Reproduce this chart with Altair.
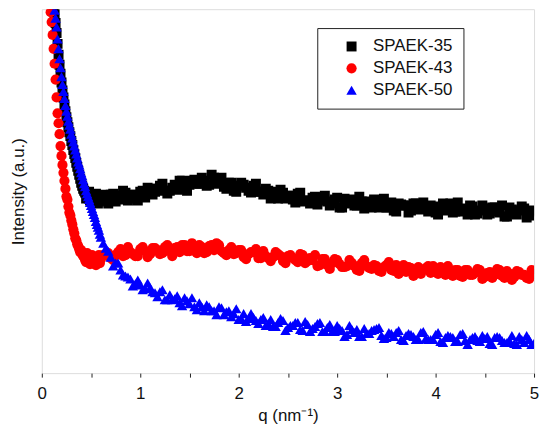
import altair as alt
import pandas as pd

# q grid (nm^-1)
q_low = [0.08, 0.09, 0.10, 0.11, 0.12, 0.13, 0.14, 0.15, 0.16, 0.17, 0.18,
         0.19, 0.20, 0.21, 0.22, 0.23, 0.24, 0.25, 0.26, 0.27, 0.28, 0.29,
         0.30, 0.31, 0.32, 0.33, 0.34, 0.35, 0.36, 0.37, 0.38, 0.39, 0.40,
         0.42, 0.44, 0.46, 0.48, 0.50, 0.52, 0.54, 0.56, 0.58, 0.60]
q_tail = [0.65, 0.70, 0.75, 0.80, 0.85, 0.90, 0.95, 1.00, 1.05, 1.10, 1.15,
          1.20, 1.25, 1.30, 1.35, 1.40, 1.45, 1.50, 1.55, 1.60, 1.65, 1.70,
          1.75, 1.80, 1.85, 1.90, 1.95, 2.00, 2.05, 2.10, 2.15, 2.20, 2.25,
          2.30, 2.35, 2.40, 2.45, 2.50, 2.55, 2.60, 2.65, 2.70, 2.75, 2.80,
          2.85, 2.90, 2.95, 3.00, 3.05, 3.10, 3.15, 3.20, 3.25, 3.30, 3.35,
          3.40, 3.45, 3.50, 3.55, 3.60, 3.65, 3.70, 3.75, 3.80, 3.85, 3.90,
          3.95, 4.00, 4.05, 4.10, 4.15, 4.20, 4.25, 4.30, 4.35, 4.40, 4.45,
          4.50, 4.55, 4.60, 4.65, 4.70, 4.75, 4.80, 4.85, 4.90, 4.95, 5.00]
q_mid = [0.41, 0.43, 0.45, 0.47, 0.49, 0.51, 0.53, 0.55, 0.57, 0.59, 0.625,
         0.675, 0.725, 0.775, 0.825, 0.875, 0.925, 0.975, 1.025, 1.075, 1.125, 1.175,
         1.225, 1.275, 1.325, 1.375, 1.425, 1.475, 1.525, 1.575, 1.625, 1.675, 1.725,
         1.775, 1.825, 1.875, 1.925, 1.975, 2.025, 2.075, 2.125, 2.175, 2.225, 2.275,
         2.325, 2.375, 2.425, 2.475, 2.525, 2.575, 2.625, 2.675, 2.725, 2.775, 2.825,
         2.875, 2.925, 2.975, 3.025, 3.075, 3.125, 3.175, 3.225, 3.275, 3.325, 3.375,
         3.425, 3.475, 3.525, 3.575, 3.625, 3.675, 3.725, 3.775, 3.825, 3.875, 3.925,
         3.975, 4.025, 4.075, 4.125, 4.175, 4.225, 4.275, 4.325, 4.375, 4.425, 4.475,
         4.525, 4.575, 4.625, 4.675, 4.725, 4.775, 4.825, 4.875, 4.925, 4.975]
q = q_low + q_tail + q_mid

series = ["SPAEK-35", "SPAEK-43", "SPAEK-50"]
colors = ["#000000", "#ff0000", "#0000ff"]
shapes = ["square", "circle", "triangle-up"]
marker_sizes = [100, 110, 135]

# Intensity (a.u.)
spaek35 = [404, 396, 388, 380, 371, 362, 353, 343, 332, 321, 311,
           302, 293, 285, 278, 271, 264, 258, 253, 248, 243, 239,
           234, 230, 225, 221, 217, 212, 208, 204, 200, 196, 192,
           186, 182, 178, 183, 175, 180, 172, 178, 173, 179,
           174, 180, 173, 179, 182, 176, 180, 183, 177, 186, 183,
           189, 184, 184, 190, 194, 186, 190, 195, 191, 194, 190,
           197, 192, 188, 192, 184, 189, 190, 184, 189, 183, 180,
           184, 181, 176, 182, 179, 175, 181, 173, 174, 177, 170,
           177, 173, 171, 177, 167, 173, 175, 169, 173, 170, 167,
           174, 170, 167, 172, 163, 170, 169, 164, 171, 165, 167,
           169, 162, 165, 168, 171, 163, 163, 166, 169, 160, 164,
           166, 161, 167, 162, 158, 167, 161, 164, 166, 159, 163,
           # in-between points
           189, 184, 176, 181, 174, 179, 176, 181, 171, 176, 180,
           171, 181, 175, 184, 174, 180, 174, 184, 187, 180, 186,
           191, 181, 187, 185, 194, 184, 194, 191, 197, 189, 200,
           191, 197, 186, 192, 183, 192, 187, 182, 191, 183, 186,
           176, 183, 185, 176, 179, 172, 182, 174, 171, 178, 174,
           179, 169, 175, 167, 176, 171, 169, 178, 166, 173, 175,
           167, 176, 167, 164, 171, 169, 162, 171, 166, 172, 163,
           168, 160, 171, 164, 162, 172, 165, 160, 168, 161, 169,
           160, 167, 163, 169, 158, 165, 160, 168, 157, 164]
spaek43 = [371, 364, 354, 341, 327, 312, 296, 278, 262, 252, 241,
           229, 219, 210, 202, 194, 186, 178, 175, 168, 162, 159,
           154, 150, 145, 141, 136, 134, 130, 128, 125, 122, 124,
           118, 114, 121, 112, 116, 111, 117, 112, 119, 115,
           119, 116, 119, 125, 119, 122, 118, 125, 123, 120, 126,
           120, 127, 123, 126, 122, 129, 123, 126, 129, 121, 128,
           124, 129, 121, 124, 120, 124, 117, 120, 122, 116, 123,
           116, 117, 120, 113, 118, 116, 112, 119, 113, 114, 108,
           115, 109, 111, 114, 107, 108, 111, 104, 111, 108, 105,
           108, 102, 109, 104, 109, 104, 102, 106, 104, 100, 106,
           101, 104, 107, 99, 101, 104, 98, 104, 99, 101, 104,
           97, 102, 99, 104, 96, 100, 97, 102, 99, 95, 100,
           # in-between points
           120, 117, 112, 118, 110, 119, 113, 109, 116, 111, 119,
           121, 114, 122, 118, 127, 120, 118, 127, 117, 126, 124,
           121, 129, 118, 127, 129, 123, 131, 121, 127, 122, 129,
           131, 123, 119, 127, 121, 124, 115, 122, 125, 116, 118,
           113, 122, 118, 111, 119, 114, 120, 111, 116, 119, 109,
           115, 105, 115, 110, 107, 114, 108, 103, 114, 106, 109,
           103, 107, 112, 103, 100, 109, 107, 98, 107, 104, 108,
           108, 100, 102, 108, 98, 104, 97, 104, 99, 105, 95,
           101, 96, 105, 98, 103, 94, 103, 99, 96, 104]
spaek50 = [414, 404, 394, 384, 374, 366, 358, 349, 337, 327, 317,
           308, 299, 291, 284, 277, 270, 264, 259, 254, 250, 246,
           241, 237, 233, 229, 225, 221, 217, 213, 210, 206, 202,
           195, 188, 181, 175, 169, 163, 157, 150, 144, 137,
           126, 117, 111, 104, 98, 95, 90, 89, 85, 86, 81,
           82, 74, 79, 75, 71, 76, 70, 67, 71, 63, 67,
           63, 67, 59, 63, 60, 54, 60, 55, 56, 50, 56,
           50, 47, 51, 53, 46, 48, 51, 43, 49, 45, 50,
           42, 46, 42, 48, 43, 39, 44, 44, 37, 40, 43,
           45, 38, 36, 40, 41, 34, 38, 39, 34, 41, 35,
           34, 39, 32, 36, 37, 32, 39, 33, 34, 37, 32,
           35, 30, 36, 36, 31, 33, 30, 37, 31, 34, 30,
           # in-between points
           199, 191, 184, 178, 172, 166, 160, 153, 147, 140, 131,
           123, 108, 111, 99, 97, 88, 94, 84, 91, 82, 77,
           84, 74, 74, 78, 68, 73, 76, 64, 67, 69, 63,
           59, 66, 62, 57, 65, 55, 52, 60, 53, 54, 48,
           54, 47, 55, 43, 48, 51, 44, 52, 42, 47, 51,
           42, 49, 42, 45, 37, 48, 41, 37, 45, 40, 44,
           46, 35, 41, 37, 43, 33, 40, 37, 34, 42, 34,
           34, 41, 31, 38, 36, 32, 40, 29, 36, 33, 38,
           37, 29, 37, 33, 31, 38, 29, 34, 38, 29]

x_ticks = [0, 0.5, 1, 1.5, 2, 2.5, 3, 3.5, 4, 4.5, 5]

rows = []
for name, vals in zip(series, [spaek35, spaek43, spaek50]):
    for qq, v in zip(q, vals):
        rows.append({"q": qq, "intensity": v, "sample": name})
df = pd.DataFrame(rows)

FONT = "Liberation Sans"

legend = alt.Legend(
    title=None, orient="none", legendX=277, legendY=19,
    fillColor="white", strokeColor="#222222",
    padding=10, rowPadding=4, symbolSize=60, symbolOffset=16,
    labelOffset=13, labelFontSize=17, labelFont=FONT, labelColor="#111111",
    symbolStrokeWidth=0,
)

chart = alt.Chart(df).mark_point(filled=True, opacity=1, clip=True).encode(
    x=alt.X("q:Q",
            scale=alt.Scale(domain=[0, 5], nice=False, zero=False),
            axis=alt.Axis(values=x_ticks, title="q (nm⁻¹)",
                          labelExpr="datum.value % 1 === 0 ? format(datum.value, 'd') : ''",
                          domain=False, grid=False, ticks=True, tickSize=4,
                          tickColor="#222222", tickWidth=1,
                          labelFontSize=17, labelFont=FONT, labelColor="#111111",
                          labelPadding=9, titleFontSize=17, titleFont=FONT,
                          titleFontWeight="normal", titleColor="#111111",
                          titlePadding=6, labelFlush=False)),
    y=alt.Y("intensity:Q",
            scale=alt.Scale(domain=[0, 367], nice=False, zero=False),
            axis=alt.Axis(title="Intensity (a.u.)", labels=False, ticks=False,
                          domain=False, grid=False, titleFontSize=17, titleFont=FONT,
                          titleFontWeight="normal", titleColor="#111111",
                          titlePadding=14)),
    color=alt.Color("sample:N", scale=alt.Scale(domain=series, range=colors), legend=legend),
    shape=alt.Shape("sample:N", scale=alt.Scale(domain=series, range=shapes), legend=legend),
    size=alt.Size("sample:N", scale=alt.Scale(domain=series, range=marker_sizes), legend=None),
    order=alt.Order("sample:N"),
).properties(
    width=495, height=366,
    autosize=alt.AutoSizeParams(type="none"),
    padding={"left": 34, "top": 0, "right": 8, "bottom": 58},
).configure_view(
    stroke="#222222", strokeWidth=1.2
).configure(background="white")

chart.save("out.html", embed_options={"renderer": "svg", "actions": False})
